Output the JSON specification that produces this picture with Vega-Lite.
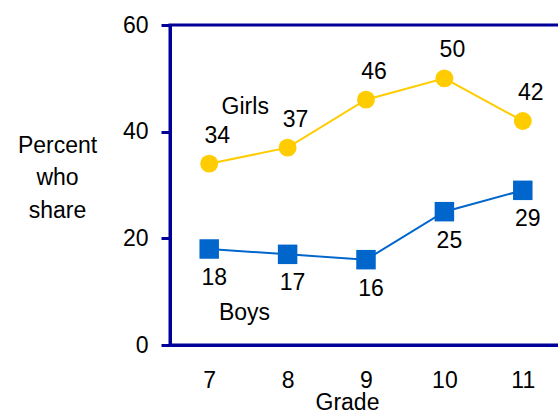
{
  "$schema": "https://vega.github.io/schema/vega-lite/v6.json",
  "width": 392,
  "height": 320,
  "autosize": {"type": "none"},
  "padding": {"left": 170, "top": 25, "right": 0, "bottom": 68},
  "background": "white",
  "config": {
    "font": "Liberation Sans",
    "view": {"stroke": "#000099", "strokeWidth": 3},
    "axis": {"grid": false, "labelFont": "Liberation Sans", "titleFont": "Liberation Sans", "labelColor": "black", "titleColor": "black", "labelFontSize": 23, "titleFontSize": 23, "titleFontWeight": "normal"}
  },
  "data": {"values": [
    {"grade": 7, "group": "Girls", "pct": 34},
    {"grade": 8, "group": "Girls", "pct": 37},
    {"grade": 9, "group": "Girls", "pct": 46},
    {"grade": 10, "group": "Girls", "pct": 50},
    {"grade": 11, "group": "Girls", "pct": 42},
    {"grade": 7, "group": "Boys", "pct": 18},
    {"grade": 8, "group": "Boys", "pct": 17},
    {"grade": 9, "group": "Boys", "pct": 16},
    {"grade": 10, "group": "Boys", "pct": 25},
    {"grade": 11, "group": "Boys", "pct": 29}
  ]},
  "encoding": {
    "x": {"field": "grade", "type": "quantitative", "scale": {"domain": [6.5, 11.5], "nice": false, "zero": false},
      "axis": {"values": [7, 8, 9, 10, 11], "ticks": false, "domainColor": "#000099", "domainWidth": 3, "labelPadding": 24, "title": "Grade", "titleX": 177, "titleY": 64, "titleBaseline": "alphabetic", "titleAnchor": null}},
    "y": {"field": "pct", "type": "quantitative", "scale": {"domain": [0, 60], "nice": false},
      "axis": {"values": [0, 20, 40, 60], "tickColor": "#000099", "tickWidth": 3, "tickSize": 9, "domainColor": "#000099", "domainWidth": 3, "labelPadding": 13,
        "title": ["Percent", "who", "share"], "titleAngle": 0, "titleX": -113, "titleY": 120, "titleBaseline": "middle", "titleAlign": "center", "titleLineHeight": 32.5}}
  },
  "layer": [
    {"mark": {"type": "line", "strokeWidth": 2}, "encoding": {"color": {"field": "group", "type": "nominal", "scale": {"domain": ["Girls", "Boys"], "range": ["#FFCC00", "#0066CC"]}, "legend": null}}},
    {"transform": [{"filter": "datum.group == 'Girls'"}], "mark": {"type": "point", "shape": "circle", "filled": true, "opacity": 1, "size": 320, "color": "#FFCC00"}},
    {"transform": [{"filter": "datum.group == 'Boys'"}], "mark": {"type": "point", "shape": "square", "filled": true, "opacity": 1, "size": 380, "color": "#0066CC"}},
    {"transform": [{"filter": "datum.group == 'Girls'"}], "mark": {"type": "text", "fontSize": 23, "dx": 8, "dy": -28, "color": "black"}, "encoding": {"text": {"field": "pct"}}},
    {"transform": [{"filter": "datum.group == 'Boys'"}], "mark": {"type": "text", "fontSize": 23, "dx": 5, "dy": 29, "color": "black"}, "encoding": {"text": {"field": "pct"}}},
    {"data": {"values": [{"grade": 7.46, "pct": 44.6, "label": "Girls"}, {"grade": 7.45, "pct": 6, "label": "Boys"}]},
      "mark": {"type": "text", "fontSize": 23, "color": "black"}, "encoding": {"text": {"field": "label"}}}
  ]
}
